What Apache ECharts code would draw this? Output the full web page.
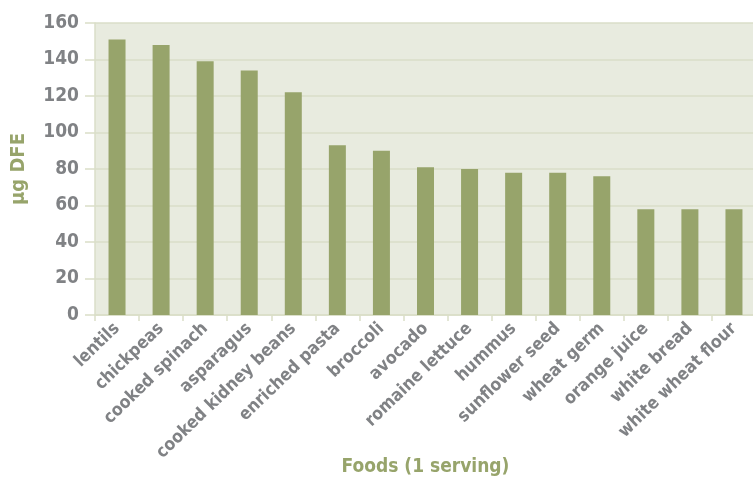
<!DOCTYPE html>
<html>
<head>
<meta charset="utf-8">
<script src="https://cdn.jsdelivr.net/npm/echarts@6/dist/echarts.min.js"></script>
<style>
  html, body { margin: 0; padding: 0; background: #ffffff; }
  #folate { width: 753px; height: 482px; }
</style>
</head>
<body>
<div id="folate"></div>
<script>
var foods = ['lentils', 'chickpeas', 'cooked spinach', 'asparagus', 'cooked kidney beans',
    'enriched pasta', 'broccoli', 'avocado', 'romaine lettuce', 'hummus',
    'sunflower seed', 'wheat germ', 'orange juice', 'white bread', 'white wheat flour'];
var folate = [151, 148, 139, 134, 122, 93, 90, 81, 80, 78, 78, 76, 58, 58, 58];
var yTicks = [0, 20, 40, 60, 80, 100, 120, 140, 160];

var fontFam = '"DejaVu Sans Condensed", "Liberation Sans Narrow", sans-serif';
var gray = '#808285';
var olive = '#97a46b';
var light = '#dadec8';

var chart = echarts.init(document.getElementById('folate'));
var option = {
    backgroundColor: '#ffffff',
    animation: false,
    grid: {
        show: true,
        backgroundColor: '#e8ebdf',
        borderWidth: 0,
        outerBoundsMode: 'none',
        containLabel: false,
        left: 95,
        right: -3,
        top: 23,
        bottom: 167
    },
    xAxis: {
        type: 'category',
        data: foods,
        name: 'Foods (1 serving)',
        nameLocation: 'middle',
        nameMoveOverlap: false,
        nameGap: 143,
        nameTextStyle: { color: olive, fontFamily: fontFam, fontWeight: 'bold', fontSize: 19, verticalAlign: 'top' },
        axisLine: { show: true, lineStyle: { color: light, width: 1.5 } },
        axisTick: { show: true, length: 6, alignWithLabel: false, lineStyle: { color: light, width: 1.5 } },
        axisLabel: {
            rotate: 44,
            interval: 0,
            margin: 11,
            color: gray,
            fontFamily: fontFam,
            fontWeight: 'bold',
            fontSize: 17.5
        }
    },
    yAxis: {
        type: 'value',
        min: yTicks[0],
        max: yTicks[yTicks.length - 1],
        interval: 20,
        name: 'μg DFE',
        nameLocation: 'middle',
        nameMoveOverlap: false,
        nameGap: 66,
        nameTextStyle: { color: olive, fontFamily: fontFam, fontWeight: 'bold', fontSize: 20 },
        axisLine: { show: true, lineStyle: { color: light, width: 1.5 } },
        axisTick: { show: true, length: 10, lineStyle: { color: light, width: 1.5 } },
        splitLine: { show: true, lineStyle: { color: light, width: 1.5 } },
        axisLabel: {
            margin: 16,
            color: gray,
            fontFamily: fontFam,
            fontWeight: 'bold',
            fontSize: 19
        }
    },
    series: [
        {
            name: 'folate',
            type: 'bar',
            data: folate,
            barWidth: 17,
            itemStyle: { color: olive }
        }
    ]
};
chart.setOption(option);
</script>
</body>
</html>
